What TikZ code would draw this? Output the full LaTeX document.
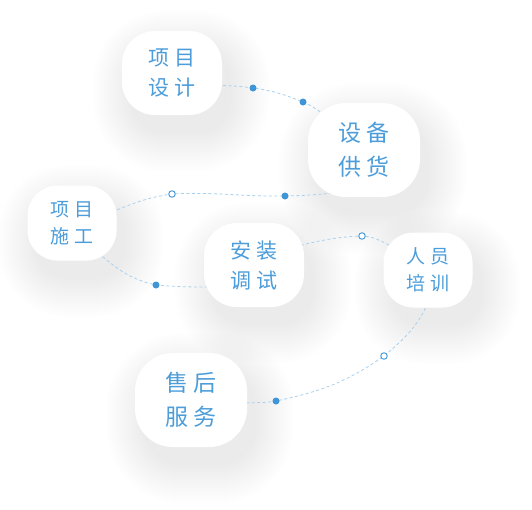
\documentclass[tikz,border=0pt]{standalone}
\usepackage{fontspec}
\newfontfamily\cjk{Noto Sans CJK SC}
\usetikzlibrary{calc}
\definecolor{StageBlue}{HTML}{4C9DDA}
\definecolor{DotBlue}{HTML}{3F95D5}
\definecolor{LinkBlue}{HTML}{A9D1EF}
\definecolor{ShadeTone}{HTML}{5A6A8A}
\pgfdeclarelayer{background}
\pgfdeclarelayer{shade}
\pgfdeclarelayer{links}
\pgfsetlayers{background,shade,links,main}
\newcommand{\gap}{\hspace{.25em}}
% soft drop shadow under a stage, #1 node name, #2 corner radius
\newcommand{\stageshadow}[2]{%
  \foreach \k in {0,...,19}{%
    \pgfmathsetmacro{\grow}{2*\k}%
    \pgfmathsetmacro{\rad}{#2+2*\k}%
    \fill[ShadeTone,opacity=.0024,rounded corners=\rad pt]
      ($(#1.south west)+(9-\grow,-18-\grow)$) rectangle ($(#1.north east)+(9+\grow,-18+\grow)$);}}

\begin{document}
\begin{tikzpicture}[x=1pt,y=1pt]
\tikzset{stage/.style={fill=white,inner sep=0pt,align=center,text=StageBlue},
         bigstage/.style={stage,minimum width=112pt,minimum height=94pt,rounded corners=38pt,font=\cjk\fontsize{23}{34}\selectfont},
         midstage/.style={stage,minimum width=100pt,minimum height=84pt,rounded corners=33pt,font=\cjk\fontsize{21}{30}\selectfont},
         smallstage/.style={stage,minimum width=89pt,minimum height=75pt,rounded corners=30pt,font=\cjk\fontsize{19}{27}\selectfont},
         link/.style={draw=LinkBlue,line width=.8pt,dash pattern=on 3pt off 2.5pt},
         dotfull/.style={circle,fill=DotBlue,inner sep=0pt,minimum size=7pt},
         dothollow/.style={circle,draw=DotBlue,fill=white,line width=.9pt,inner sep=0pt,minimum size=6.5pt}}
\useasboundingbox (0,0) rectangle (532,-509);
% stages
\node[midstage] (design) at (172,-73) {项\gap 目\\设\gap 计};
\node[bigstage] (supply) at (364,-150) {设\gap 备\\供\gap 货};
\node[smallstage] (build) at (72,-223) {项\gap 目\\施\gap 工};
\node[midstage] (debug) at (254,-265) {安\gap 装\\调\gap 试};
\node[smallstage] (train) at (428,-270) {人\gap 员\\培\gap 训};
\node[bigstage] (service) at (191,-400) {售\gap 后\\服\gap 务};
% dots on the links
\node[dotfull] (p1) at (253,-88) {};
\node[dotfull] (p2) at (303,-102) {};
\node[dothollow] (p3) at (172,-194) {};
\node[dotfull] (p4) at (285,-196) {};
\node[dotfull] (p5) at (156,-285) {};
\node[dothollow] (p6) at (362,-236) {};
\node[dothollow] (p7) at (384,-356) {};
\node[dotfull] (p8) at (276,-401) {};
\begin{pgfonlayer}{background}
\fill[white] (0,0) rectangle (532,-509);
\end{pgfonlayer}
\begin{pgfonlayer}{shade}
\stageshadow{design}{33}
\stageshadow{supply}{38}
\stageshadow{build}{30}
\stageshadow{debug}{33}
\stageshadow{train}{30}
\stageshadow{service}{38}
\end{pgfonlayer}
\begin{pgfonlayer}{links}
\draw[link] ($(design.center)+(40,-12)$) to[out=-3,in=172] (p1.center) to[out=-8,in=158] (p2.center) to[out=-22,in=147] ($(supply.center)+(-35,32)$);
\draw[link] ($(build.center)+(30,7)$) to[out=22,in=188] (p3.center) to[out=3,in=181] (p4.center) to[out=1,in=185] ($(supply.center)+(-19,-42)$);
\draw[link] ($(build.center)+(18,-23)$) to[out=-40,in=168] (p5.center) to[out=-5,in=180] ($(debug.center)+(-38,-22)$);
\draw[link] ($(debug.center)+(36,17)$) to[out=14,in=182] (p6.center) to[out=-3,in=160] ($(train.center)+(-26,19)$);
\draw[link] ($(train.center)+(2,-28)$) to[out=-112,in=40] (p7.center) to[out=-145,in=12] (p8.center) to[out=-170,in=3] ($(service.center)+(49,-3)$);
\end{pgfonlayer}
\end{tikzpicture}
\end{document}
